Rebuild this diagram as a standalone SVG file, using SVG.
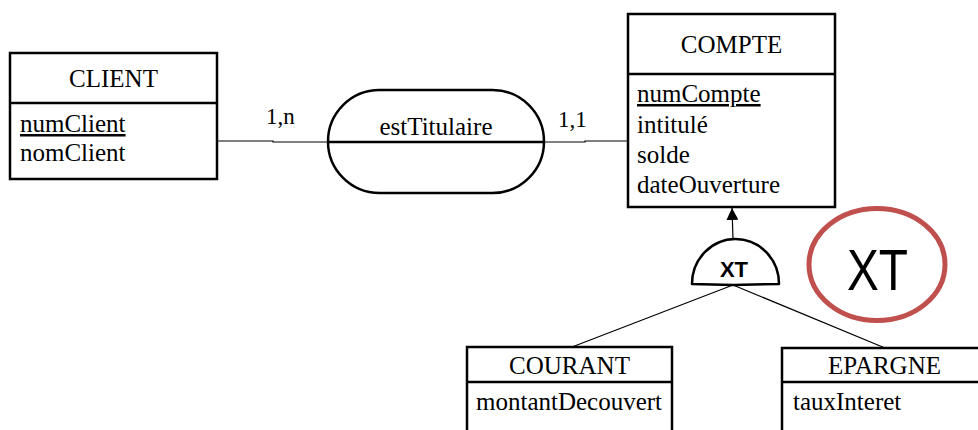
<svg xmlns="http://www.w3.org/2000/svg" width="978" height="430" viewBox="0 0 978 430">
<style>
.box{fill:#fff;stroke:#000;stroke-width:2.5}
.sep{stroke:#000;stroke-width:2.5}
.t{font-family:"Liberation Serif","Times New Roman",serif;font-size:25px;fill:#000}
.c{text-anchor:middle}
.card{font-family:"Liberation Serif","Times New Roman",serif;font-size:23px;fill:#000}
.ln{stroke:#000;stroke-width:1.2;fill:none}
</style>
<defs>
<marker id="arr" viewBox="0 0 10 10" refX="10" refY="5" markerWidth="12" markerHeight="12" markerUnits="userSpaceOnUse" orient="auto">
<path d="M0,0 L10,5 L0,10 Z" fill="#000"/>
</marker>
</defs>
<rect width="978" height="430" fill="#fff"/>
<g id="connectors">
<path class="ln" d="M217,141 H273 V142 H328"/>
<path class="ln" d="M544,142 H585 V141 H628"/>
<line class="ln" x1="733" y1="239" x2="732" y2="208" marker-end="url(#arr)"/>
<line class="ln" x1="733" y1="285" x2="572" y2="347"/>
<line class="ln" x1="733" y1="285" x2="885" y2="348"/>
<text class="card" x="266" y="124">1,n</text>
<text class="card" x="558" y="127">1,1</text>
</g>
<g id="client">
<rect class="box" x="10" y="53" width="207" height="126"/>
<line class="sep" x1="10" y1="103" x2="217" y2="103"/>
<text class="t c" x="113.5" y="87">CLIENT</text>
<text class="t" x="20" y="132" text-decoration="underline">numClient</text>
<text class="t" x="20" y="161">nomClient</text>
</g>
<g id="estTitulaire">
<rect class="box" x="328" y="90" width="216" height="103" rx="51.5" ry="51.5"/>
<line class="sep" x1="328" y1="142" x2="544" y2="142"/>
<text class="t c" x="436" y="135">estTitulaire</text>
</g>
<g id="compte">
<rect class="box" x="628" y="14" width="207" height="193"/>
<line class="sep" x1="628" y1="74" x2="835" y2="74"/>
<text class="t c" x="731.5" y="53">COMPTE</text>
<text class="t" x="637" y="102" text-decoration="underline">numCompte</text>
<text class="t" x="637" y="133">intitulé</text>
<text class="t" x="637" y="163">solde</text>
<text class="t" x="637" y="193">dateOuverture</text>
</g>
<g id="xt-spec">
<path d="M692,284 A43.5,45 0 0 1 779,284 L733,285 Z" fill="#fff" stroke="#000" stroke-width="2.5" stroke-linejoin="round"/>
<text x="734" y="277" text-anchor="middle" font-family="'Liberation Sans',Arial,sans-serif" font-weight="bold" font-size="22">XT</text>
</g>
<g id="xt-note">
<ellipse cx="877" cy="264.5" rx="68" ry="56" fill="none" stroke="#C0504D" stroke-width="5"/>
<text x="877.5" y="290" text-anchor="middle" font-family="'Liberation Sans',Arial,sans-serif" font-size="58" textLength="61" lengthAdjust="spacingAndGlyphs">XT</text>
</g>
<g id="courant">
<rect class="box" x="467" y="347" width="205" height="100"/>
<line class="sep" x1="467" y1="382" x2="672" y2="382"/>
<text class="t c" x="569.5" y="374">COURANT</text>
<text class="t" x="476" y="410">montantDecouvert</text>
</g>
<g id="epargne">
<rect class="box" x="782" y="348" width="205" height="100"/>
<line class="sep" x1="782" y1="382" x2="987" y2="382"/>
<text class="t c" x="884.5" y="374">EPARGNE</text>
<text class="t" x="793" y="410">tauxInteret</text>
</g>
</svg>
